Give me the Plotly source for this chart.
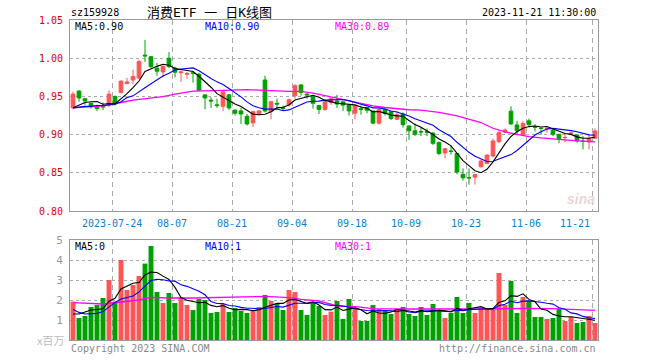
import plotly.graph_objects as go
import pandas as pd

# ---------------- data ----------------
dates = ["2023-07-13","2023-07-14","2023-07-17","2023-07-18","2023-07-19","2023-07-20","2023-07-21",
         "2023-07-24","2023-07-25","2023-07-26","2023-07-27","2023-07-28","2023-07-31","2023-08-01",
         "2023-08-02","2023-08-03","2023-08-04","2023-08-07","2023-08-08","2023-08-09","2023-08-10",
         "2023-08-11","2023-08-14","2023-08-15","2023-08-16","2023-08-17","2023-08-18","2023-08-21",
         "2023-08-22","2023-08-23","2023-08-24","2023-08-25","2023-08-28","2023-08-29","2023-08-30",
         "2023-08-31","2023-09-01","2023-09-04","2023-09-05","2023-09-06","2023-09-07","2023-09-08",
         "2023-09-11","2023-09-12","2023-09-13","2023-09-14","2023-09-15","2023-09-18","2023-09-19",
         "2023-09-20","2023-09-21","2023-09-22","2023-09-25","2023-09-26","2023-09-27","2023-09-28",
         "2023-10-09","2023-10-10","2023-10-11","2023-10-12","2023-10-13","2023-10-16","2023-10-17",
         "2023-10-18","2023-10-19","2023-10-20","2023-10-23","2023-10-24","2023-10-25","2023-10-26",
         "2023-10-27","2023-10-30","2023-10-31","2023-11-01","2023-11-02","2023-11-03","2023-11-06",
         "2023-11-07","2023-11-08","2023-11-09","2023-11-10","2023-11-13","2023-11-14","2023-11-15",
         "2023-11-16","2023-11-17","2023-11-20","2023-11-21"]

opens = [0.935,0.957,0.947,0.941,0.937,0.938,0.938,0.950,0.955,0.967,0.9715,0.974,1.004,1.002,
         0.987,0.982,1.000,0.987,0.981,0.979,0.981,0.979,0.952,0.945,0.939,0.937,0.952,0.932,
         0.931,0.924,0.9153,0.927,0.9715,0.930,0.941,0.935,0.939,0.951,0.965,0.953,0.950,0.938,
         0.933,0.942,0.944,0.943,0.9386,0.928,0.934,0.9355,0.931,0.915,0.933,0.930,0.920,0.927,
         0.9114,0.905,0.904,0.904,0.902,0.8895,0.876,0.8786,0.8754,0.848,0.8436,0.8443,0.858,0.8623,
         0.872,0.8908,0.9035,0.9307,0.9127,0.8996,0.918,0.910,0.9085,0.9075,0.9057,0.9004,0.896,0.9017,
         0.8996,0.8917,0.8904,0.8952]
highs = [0.956,0.958,0.948,0.942,0.939,0.942,0.958,0.951,0.971,0.974,0.985,0.998,1.024,1.002,
         0.994,0.990,1.008,0.989,0.984,0.982,0.982,0.981,0.952,0.949,0.947,0.957,0.953,0.933,
         0.935,0.927,0.931,0.932,0.977,0.944,0.947,0.938,0.947,0.966,0.966,0.955,0.952,0.938,
         0.944,0.949,0.952,0.943,0.940,0.9386,0.938,0.9355,0.931,0.934,0.935,0.930,0.930,0.929,
         0.9114,0.9145,0.909,0.908,0.903,0.891,0.882,0.886,0.8754,0.8557,0.8557,0.848,0.8675,0.874,
         0.8947,0.906,0.908,0.937,0.918,0.9175,0.921,0.9136,0.9085,0.9105,0.908,0.9004,0.9026,0.9035,
         0.8996,0.898,0.9004,0.908]
lows = [0.933,0.943,0.939,0.934,0.931,0.932,0.936,0.938,0.954,0.966,0.966,0.973,0.995,0.987,
        0.977,0.975,0.987,0.975,0.969,0.973,0.968,0.957,0.933,0.935,0.935,0.931,0.932,0.925,
        0.914,0.912,0.910,0.925,0.929,0.920,0.934,0.931,0.937,0.947,0.951,0.947,0.934,0.927,
        0.931,0.939,0.935,0.931,0.925,0.920,0.926,0.928,0.9136,0.913,0.925,0.919,0.919,0.909,
        0.893,0.898,0.898,0.898,0.8864,0.8728,0.869,0.874,0.848,0.840,0.8346,0.8346,0.8566,0.861,
        0.870,0.8886,0.902,0.9127,0.899,0.899,0.9105,0.904,0.900,0.9026,0.898,0.8886,0.890,0.900,
        0.8895,0.8807,0.8807,0.8952]
closes = [0.953,0.948,0.944,0.937,0.934,0.936,0.953,0.940,0.970,0.969,0.976,0.9956,1.003,0.989,
          0.983,0.9895,0.989,0.9816,0.982,0.980,0.980,0.958,0.948,0.944,0.938,0.956,0.935,0.928,
          0.927,0.914,0.930,0.931,0.931,0.943,0.940,0.934,0.9456,0.964,0.955,0.952,0.941,0.933,
          0.943,0.947,0.940,0.9386,0.931,0.9377,0.933,0.932,0.915,0.933,0.9276,0.921,0.926,0.913,
          0.905,0.9004,0.9035,0.903,0.8886,0.8754,0.8816,0.878,0.851,0.8434,0.8434,0.8478,0.8654,0.8732,
          0.8917,0.9026,0.906,0.914,0.905,0.9145,0.913,0.9097,0.908,0.908,0.9004,0.8947,0.8963,0.902,
          0.8917,0.891,0.895,0.9048]
volumes = [1.92,1.10,1.20,1.65,1.75,2.10,3.00,1.92,4.00,2.50,2.75,3.20,3.82,4.70,
           2.40,1.85,2.35,1.85,2.15,1.75,1.50,2.05,2.00,1.35,1.40,1.80,1.40,1.60,
           1.45,1.35,1.50,1.65,2.25,1.95,1.80,1.50,2.50,2.40,1.50,1.25,1.90,1.70,
           1.25,1.42,1.95,1.05,2.05,1.55,0.95,0.95,1.75,1.55,1.45,1.30,1.55,1.65,
           1.30,1.20,1.65,1.25,1.80,1.50,1.10,1.35,2.15,1.35,1.85,1.35,1.65,1.55,
           1.50,3.35,1.75,2.95,1.35,2.15,1.95,1.15,1.15,1.05,1.10,1.55,0.95,1.15,
           0.85,0.90,1.20,0.85]

# moving-average values for the warm-up days (prior history not shown)
ma5_head = [0.935,0.9386,0.942,0.943]
ma10_head = [0.935,0.936,0.937,0.937,0.938,0.938,0.939,0.940,0.943]
ma30_idx = [0,5,8,10,15,17,20,23,25,29,32,36,38,40,42,44,46,48,50,52,54,56,58,61,64,66,68,70,72,74,76,78,80,83,87]
ma30_val = [0.935,0.9377,0.942,0.945,0.9496,0.953,0.957,0.958,0.958,0.9588,0.9575,0.9566,0.9566,0.9544,
            0.951,0.948,0.944,0.941,0.9377,0.9355,0.934,0.9325,0.932,0.929,0.9246,0.920,0.9158,0.9083,
            0.9035,0.9004,0.8974,0.8956,0.8947,0.8925,0.8904]
vma5_head = [1.30,1.30,1.40,1.50]
vma10_head = [1.53,1.38,1.30,1.33,1.33,1.42,1.67,1.88,2.05]
vma30_idx = [0,5,8,11,13,16,20,26,30,32,36,38,41,43,44,47,50,55,60,65,70,75,80,87]
vma30_val = [1.87,1.80,1.90,2.00,2.13,2.10,2.10,2.13,2.17,2.18,2.12,2.03,1.95,1.78,1.70,1.67,1.57,
             1.55,1.55,1.53,1.55,1.58,1.57,1.48]

tick_dates = ["2023-07-24","2023-08-07","2023-08-21","2023-09-04","2023-09-18","2023-10-09",
              "2023-10-23","2023-11-06","2023-11-21"]
tick_labels = ["2023-07-24","08-07","08-21","09-04","09-18","10-09","10-23","11-06","11-21"]
price_ticks = [0.80,0.85,0.90,0.95,1.00,1.05]
vol_ticks = [1,2,3,4,5]

# ---------------- derived ----------------
n = len(dates)
x = list(range(n))
cs = pd.Series(closes)
vs = pd.Series(volumes)
ma5 = cs.rolling(5).mean().tolist()
ma10 = cs.rolling(10).mean().tolist()
ma5[:4] = ma5_head
ma10[:9] = ma10_head
vma5 = vs.rolling(5).mean().tolist()
vma10 = vs.rolling(10).mean().tolist()
vma5[:4] = vma5_head
vma10[:9] = vma10_head

RED = "#ff5555"
GREEN = "#00a000"
bar_colors = [RED if c >= o else GREEN for o, c in zip(opens, closes)]
tick_pos = [dates.index(d) - 0.5 for d in tick_dates]

MONO = "DejaVu Sans Mono"

fig = go.Figure()
fig.add_trace(go.Candlestick(x=x, open=opens, high=highs, low=lows, close=closes,
                             increasing=dict(line=dict(color=RED, width=1), fillcolor=RED),
                             decreasing=dict(line=dict(color=GREEN, width=1), fillcolor=GREEN),
                             whiskerwidth=0, xaxis="x", yaxis="y", hoverinfo="skip"))
fig.add_trace(go.Scatter(x=ma30_idx, y=ma30_val, mode="lines", line=dict(color="#ff00ff", width=1.3),
                         xaxis="x", yaxis="y", hoverinfo="skip"))
fig.add_trace(go.Scatter(x=x, y=ma10, mode="lines", line=dict(color="#0000ff", width=1.1),
                         xaxis="x", yaxis="y", hoverinfo="skip"))
fig.add_trace(go.Scatter(x=x, y=ma5, mode="lines", line=dict(color="#000000", width=1.1),
                         xaxis="x", yaxis="y", hoverinfo="skip"))

fig.add_trace(go.Bar(x=x, y=volumes, marker=dict(color=bar_colors, line=dict(width=0)), width=0.82,
                     xaxis="x2", yaxis="y2", hoverinfo="skip"))
fig.add_trace(go.Scatter(x=vma30_idx, y=vma30_val, mode="lines", line=dict(color="#ff00ff", width=1.3),
                         xaxis="x2", yaxis="y2", hoverinfo="skip"))
fig.add_trace(go.Scatter(x=x, y=vma10, mode="lines", line=dict(color="#0000ff", width=1.1),
                         xaxis="x2", yaxis="y2", hoverinfo="skip"))
fig.add_trace(go.Scatter(x=x, y=vma5, mode="lines", line=dict(color="#000000", width=1.1),
                         xaxis="x2", yaxis="y2", hoverinfo="skip"))

xcommon = dict(range=[-0.5, n - 0.5], tickvals=tick_pos, showticklabels=False, ticks="",
               showgrid=True, gridcolor="#aaaaaa", griddash="5px,4px", gridwidth=1,
               showline=True, linecolor="#999999", linewidth=1, mirror=True, zeroline=False,
               fixedrange=True)
main_dom = [(340 - 211) / 320, 1.0]
vol_dom = [0.0, 100 / 320]

fig.update_layout(
    width=660, height=360,
    margin=dict(l=70, r=62, t=20, b=20),
    paper_bgcolor="white", plot_bgcolor="white",
    showlegend=False, boxgap=0.12, hovermode=False,
    xaxis=dict(**xcommon, domain=[0, 1], anchor="y", rangeslider=dict(visible=False)),
    xaxis2=dict(**xcommon, domain=[0, 1], anchor="y2", matches="x"),
    yaxis=dict(domain=main_dom, range=[0.80, 1.05], tickvals=price_ticks,
               ticktext=["%.2f" % v for v in price_ticks],
               tickfont=dict(family=MONO, size=10, color="#e00000"),
               showgrid=True, gridcolor="#aaaaaa", griddash="dot", gridwidth=1,
               showline=True, linecolor="#999999", mirror=True, zeroline=False, ticks="",
               ticklabelstandoff=4, anchor="x", fixedrange=True),
    yaxis2=dict(domain=vol_dom, range=[0, 5], tickvals=vol_ticks,
                ticktext=[str(v) for v in vol_ticks],
                tickfont=dict(family=MONO, size=11, color="#999999"),
                showgrid=True, gridcolor="#aaaaaa", griddash="dot", gridwidth=1,
                showline=True, linecolor="#999999", mirror=True, zeroline=False, ticks="",
                ticklabelstandoff=4, anchor="x2", fixedrange=True),
)

def px(xp):
    return (xp - 70) / 528

def py(yp):
    return (340 - yp) / 320

ann = []
def text(t, xp, yp, color, size=10, family=MONO, xanchor="left", **kw):
    ann.append(dict(text=t, x=px(xp), y=py(yp), xref="paper", yref="paper", showarrow=False,
                    xanchor=xanchor, yanchor="middle", font=dict(family=family, size=size, color=color), **kw))

text("sz159928", 69, 13, "#000000")
text("消费ETF 一 日K线图", 209, 13, "#000000", size=13,
     family="DejaVu Sans Mono, Noto Sans CJK SC", xanchor="center")
text("2023-11-21 11:30:00", 598, 13, "#000000", xanchor="right")
text("MA5:0.90", 73, 27, "#000000")
text("MA10:0.90", 203, 27, "#0000ff")
text("MA30:0.89", 333, 27, "#ff00ff")
text("MA5:0", 73, 246, "#000000")
text("MA10:1", 203, 246, "#0000ff")
text("MA30:1", 333, 246, "#ff00ff")
text("x百万", 66, 340, "#bbbbbb", size=11, family="Noto Sans CJK SC", xanchor="right")
text("Copyright 2023 SINA.COM", 69, 348, "#888888")
text("http://finance.sina.com.cn", 598, 348, "#888888", xanchor="right")
text("<b><i>sina</i></b>", 597, 199, "#ecd6d6", size=14, family="Arial", xanchor="right")

for p, lab in zip(tick_pos, tick_labels):
    if lab == tick_labels[-1]:
        text(lab, p * 6 + 70 + 3, 223, "#0a7fd0", xanchor="right")
    else:
        text(lab, p * 6 + 70 + 3, 223, "#0a7fd0", xanchor="center")

fig.update_layout(annotations=ann)
fig.write_html("out.html", config={"displayModeBar": False, "staticPlot": True},
               post_script="document.body.style.margin='0';document.body.style.overflow='hidden';")
